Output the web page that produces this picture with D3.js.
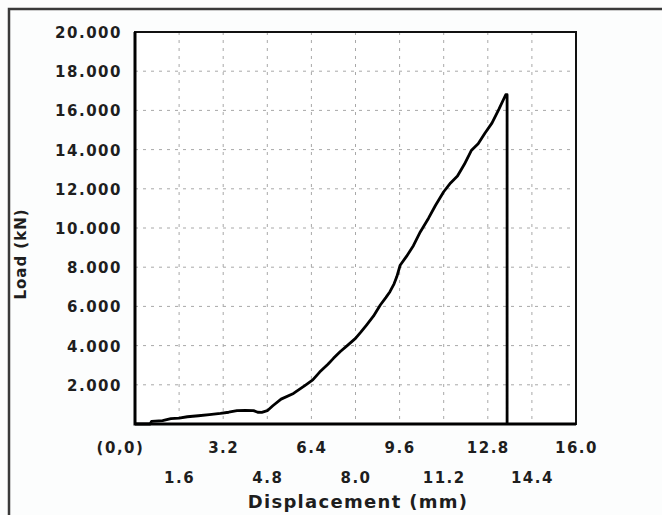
<!DOCTYPE html>
<html>
<head>
<meta charset="utf-8">
<script src="https://cdn.jsdelivr.net/npm/d3@7"></script>
<style>
  html, body { margin: 0; padding: 0; background: #fcfdfd; }
  svg { display: block; }
  text { font-family: "DejaVu Sans", Verdana, sans-serif; font-weight: bold; fill: #1e1e1e; }
</style>
</head>
<body>
<svg id="chart"></svg>
<script>
// displacement (mm) and load (kN, shown x1000 on the axis)
const displacement = [0, 0.55, 0.6, 1.0, 1.3, 1.6, 1.9, 2.3, 2.7, 3.1, 3.4, 3.7, 4.0, 4.3, 4.45, 4.6, 4.8,
  5.0, 5.3, 5.75, 6.2, 6.45, 6.7, 7.0, 7.2, 7.45, 7.7, 8.0, 8.2, 8.4, 8.65, 8.9, 9.1, 9.25, 9.4, 9.5,
  9.62, 9.85, 10.1, 10.35, 10.65, 10.9, 11.2, 11.45, 11.7, 11.95, 12.2, 12.45, 12.7, 12.95, 13.2, 13.45, 13.5, 13.5];
const load = [0, 0, 130, 170, 270, 300, 370, 420, 480, 540, 600, 680, 690, 680, 600, 590, 680,
  930, 1270, 1560, 2000, 2250, 2650, 3050, 3350, 3700, 4000, 4370, 4700, 5050, 5500, 6070, 6450, 6750, 7150, 7520,
  8100, 8550, 9100, 9800, 10500, 11150, 11850, 12300, 12650, 13250, 13950, 14300, 14850, 15350, 16050, 16800, 16800, 0];

const xTicksTop = [0, 3.2, 6.4, 9.6, 12.8, 16.0];
const xTickTopLabels = ['(0,0)', '3.2', '6.4', '9.6', '12.8', '16.0'];
const xTicksBottom = [1.6, 4.8, 8.0, 11.2, 14.4];
const xTickBottomLabels = ['1.6', '4.8', '8.0', '11.2', '14.4'];
const yTicks = [2000, 4000, 6000, 8000, 10000, 12000, 14000, 16000, 18000, 20000];
const yTickLabels = ['2.000', '4.000', '6.000', '8.000', '10.000', '12.000', '14.000', '16.000', '18.000', '20.000'];

const width = 662, height = 515;
const margin = { top: 32, right: 86, bottom: 91, left: 135 };

const svg = d3.select('#chart')
  .attr('width', width)
  .attr('height', height);

// scanned page frame (top and left edges)
svg.append('path')
  .attr('d', `M9,${height} L9,9 L${width},9`)
  .attr('fill', 'none')
  .attr('stroke', '#3a3a3a')
  .attr('stroke-width', 2.5);

const x = d3.scaleLinear().domain([0, 16]).range([margin.left, width - margin.right]);
const y = d3.scaleLinear().domain([0, 20000]).range([height - margin.bottom, margin.top]);

// plot background
svg.append('rect')
  .attr('x', x(0)).attr('y', y(20000))
  .attr('width', x(16) - x(0)).attr('height', y(0) - y(20000))
  .attr('fill', '#ffffff');

// dashed grid
const grid = svg.append('g').attr('stroke', '#a8a8a8').attr('stroke-width', 1).attr('stroke-dasharray', '3,5');
grid.selectAll('.vg')
  .data(xTicksTop.concat(xTicksBottom).filter(d => d > 0 && d < 16))
  .enter().append('line')
  .attr('x1', d => x(d)).attr('x2', d => x(d))
  .attr('y1', y(20000)).attr('y2', y(0));
grid.selectAll('.hg')
  .data(yTicks.filter(d => d < 20000))
  .enter().append('line')
  .attr('x1', x(0)).attr('x2', x(16))
  .attr('y1', d => y(d)).attr('y2', d => y(d));

// y axis labels
const yAxis = d3.axisLeft(y)
  .tickValues(yTicks)
  .tickSize(0)
  .tickPadding(13)
  .tickFormat((d, i) => yTickLabels[i]);
const yg = svg.append('g')
  .attr('transform', `translate(${x(0)},0)`)
  .call(yAxis);
yg.select('.domain').remove();
yg.selectAll('text')
  .style('font-size', '15px')
  .style('letter-spacing', '1.5px')
  .attr('dy', '0.36em');

// x axis labels, two staggered rows
const xTop = d3.axisBottom(x)
  .tickValues(xTicksTop)
  .tickSize(0)
  .tickPadding(0)
  .tickFormat((d, i) => xTickTopLabels[i]);
const xg1 = svg.append('g')
  .attr('transform', `translate(0,453)`)
  .call(xTop);
xg1.select('.domain').remove();
xg1.selectAll('text')
  .attr('y', 0).attr('dy', 0)
  .attr('dx', d => d === 0 ? -15 : 0)
  .style('font-size', '15px')
  .style('letter-spacing', '1.5px');

const xBottom = d3.axisBottom(x)
  .tickValues(xTicksBottom)
  .tickSize(0)
  .tickPadding(0)
  .tickFormat((d, i) => xTickBottomLabels[i]);
const xg2 = svg.append('g')
  .attr('transform', `translate(0,483)`)
  .call(xBottom);
xg2.select('.domain').remove();
xg2.selectAll('text')
  .attr('y', 0).attr('dy', 0)
  .style('font-size', '15px')
  .style('letter-spacing', '1.5px');

// axis titles
svg.append('text')
  .attr('x', 358).attr('y', 508)
  .attr('text-anchor', 'middle')
  .style('font-size', '18px')
  .style('letter-spacing', '1.3px')
  .text('Displacement (mm)');

svg.append('text')
  .attr('transform', 'translate(26,254) rotate(-90)')
  .attr('text-anchor', 'middle')
  .style('font-size', '15px')
  .style('letter-spacing', '1px')
  .text('Load (kN)');

// plot frame
svg.append('rect')
  .attr('x', x(0)).attr('y', y(20000))
  .attr('width', x(16) - x(0)).attr('height', y(0) - y(20000))
  .attr('fill', 'none')
  .attr('stroke', '#111')
  .attr('stroke-width', 2);
svg.append('path')
  .attr('d', `M${x(0)},${y(20000)} L${x(0)},${y(0)} L${x(16)},${y(0)}`)
  .attr('fill', 'none')
  .attr('stroke', '#000')
  .attr('stroke-width', 3);

// load curve
const points = displacement.map((d, i) => [d, load[i]]);
const line = d3.line()
  .x(d => x(d[0]))
  .y(d => y(d[1]));
svg.append('path')
  .datum(points)
  .attr('d', line)
  .attr('fill', 'none')
  .attr('stroke', '#000')
  .attr('stroke-width', 2.8)
  .attr('stroke-linejoin', 'round');
</script>
</body>
</html>
